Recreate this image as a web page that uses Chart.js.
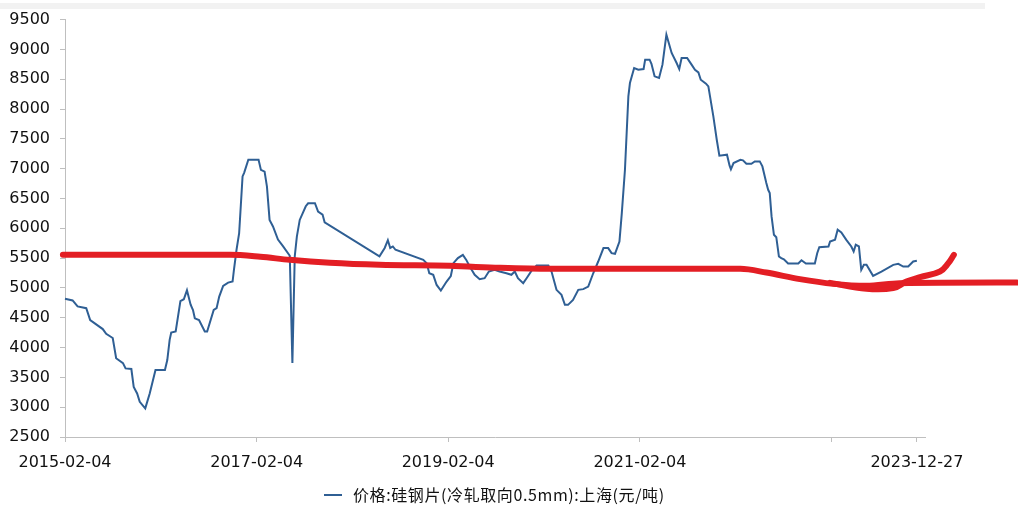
<!DOCTYPE html>
<html>
<head>
<meta charset="utf-8">
<script src="https://cdn.jsdelivr.net/npm/chart.js@4.4.1/dist/chart.umd.min.js"></script>
<style>
  body { margin: 0; background: #fff; }
  #wrap { position: relative; width: 1018px; height: 511px; }
  #band { position: absolute; left: 0; top: 3px; width: 985px; height: 6px; background: #f2f2f2; }
</style>
</head>
<body>
<div id="wrap">
  <div id="band"></div>
  <canvas id="myChart"></canvas>
</div>
<script>
// 价格:硅钢片(冷轧取向0.5mm):上海(元/吨), weekly-ish readings
var priceDates = [
  '2015-02-04','2015-03-05','2015-03-24','2015-04-26','2015-05-11','2015-06-28','2015-07-11','2015-08-05',
  '2015-08-18','2015-09-13','2015-09-23','2015-10-15','2015-10-24','2015-11-06','2015-11-16','2015-12-07',
  '2015-12-24','2016-01-15','2016-02-20','2016-02-29','2016-03-09','2016-03-15','2016-04-01','2016-04-19',
  '2016-05-02','2016-05-14','2016-05-28','2016-06-06','2016-06-13','2016-06-29','2016-07-21','2016-07-30',
  '2016-08-24','2016-09-04','2016-09-14','2016-09-29','2016-10-18','2016-11-04','2016-11-09','2016-11-19',
  '2016-11-29','2016-12-12','2016-12-18','2017-01-03','2017-02-11','2017-02-20','2017-03-06','2017-03-15',
  '2017-03-25','2017-04-07','2017-04-26','2017-05-15','2017-06-10','2017-06-20','2017-06-29','2017-07-07',
  '2017-07-18','2017-08-10','2017-08-19','2017-09-14','2017-09-26','2017-10-13','2017-10-21','2018-05-18',
  '2018-06-07','2018-06-19','2018-06-28','2018-07-08','2018-07-18','2018-11-01','2018-11-14','2018-11-24',
  '2018-12-09','2018-12-22','2019-01-07','2019-01-29','2019-02-14','2019-02-24','2019-03-13','2019-04-01',
  '2019-04-14','2019-04-27','2019-05-16','2019-06-04','2019-06-23','2019-07-09','2019-07-31','2019-08-19',
  '2019-09-14','2019-10-03','2019-10-16','2019-10-28','2019-11-17','2019-11-30','2019-12-19','2020-01-07',
  '2020-02-21','2020-03-04','2020-03-23','2020-04-11','2020-04-24','2020-05-06','2020-05-25','2020-06-14',
  '2020-07-03','2020-07-22','2020-08-10','2020-08-29','2020-09-18','2020-10-06','2020-10-19','2020-11-01',
  '2020-11-18','2020-11-27','2020-12-09','2020-12-22','2020-12-28','2021-01-13','2021-01-29','2021-02-18',
  '2021-02-24','2021-03-13','2021-03-20','2021-04-01','2021-04-18','2021-05-01','2021-05-16','2021-06-05',
  '2021-06-24','2021-07-04','2021-07-13','2021-08-03','2021-08-20','2021-09-02','2021-09-15','2021-09-24',
  '2021-10-14','2021-10-23','2021-11-11','2021-11-24','2021-12-04','2022-01-02','2022-01-12','2022-01-17',
  '2022-01-27','2022-02-22','2022-03-04','2022-03-17','2022-04-05','2022-04-18','2022-05-07','2022-05-17',
  '2022-06-01','2022-06-08','2022-06-14','2022-06-21','2022-06-30','2022-07-09','2022-07-19','2022-07-28',
  '2022-08-07','2022-08-23','2022-10-01','2022-10-13','2022-10-30','2022-12-03','2022-12-12','2022-12-20',
  '2023-01-24','2023-01-30','2023-02-18','2023-02-28','2023-03-14','2023-04-02','2023-04-21','2023-04-30',
  '2023-05-08','2023-05-20','2023-05-29','2023-06-08','2023-06-18','2023-07-13','2023-08-14','2023-09-28',
  '2023-10-17','2023-11-05','2023-11-24','2023-12-13','2023-12-27'
]
var priceValues = [
  4820,4790,4690,4660,4460,4310,4230,4160,
  3820,3740,3650,3640,3340,3230,3090,2980,
  3230,3625,3625,3790,4130,4250,4270,4780,
  4810,4960,4720,4630,4490,4460,4270,4270,
  4630,4660,4855,5035,5090,5107,5300,5640,
  5920,6870,6930,7150,7150,6980,6950,6700,
  6140,6030,5810,5700,5540,3740,5530,5860,
  6140,6370,6420,6420,6280,6230,6100,5530,
  5670,5800,5670,5695,5640,5470,5415,5246,
  5220,5050,4956,5107,5200,5415,5500,5555,
  5470,5360,5220,5147,5163,5275,5303,5275,
  5246,5220,5275,5163,5080,5163,5290,5375,
  5375,5275,4968,4884,4716,4716,4800,4968,
  4980,5023,5246,5443,5668,5668,5583,5572,
  5779,6254,6982,8212,8436,8688,8660,8671,
  8828,8828,8760,8548,8520,8744,9248,8940,
  8772,8671,8856,8856,8744,8660,8615,8492,
  8425,8380,7876,7485,7217,7234,7050,6990,
  7094,7150,7140,7083,7083,7122,7122,7038,
  6758,6646,6590,6199,5891,5851,5527,5499,
  5480,5410,5410,5465,5410,5410,5583,5684,
  5695,5779,5807,5975,5930,5807,5695,5611,
  5723,5695,5303,5387,5387,5202,5275,5387,
  5404,5359,5359,5443,5454
]

// red hand-drawn strokes over the chart
var markDates = ['2015-01-27','2016-10-25','2017-02-18','2017-06-10','2017-11-10','2018-05-18','2019-02-11',
  '2019-08-19','2020-02-28','2022-02-22','2022-06-01','2022-10-07','2023-02-11','2023-06-18','2023-10-23','2025-01-12']
var markValues = [5555,5555,5522,5471,5421,5387,5370,5337,5320,5320,5258,5147,5068,5035,5080,5090]
var curlDates = ['2023-01-30','2023-06-18','2023-09-28','2023-11-17','2024-01-08','2024-03-24','2024-04-25','2024-05-16']
var curlValues = [5085,4985,4997,5107,5180,5275,5415,5555]

var tickDates = ['2015-02-04','2017-02-04','2019-02-04','2021-02-04','2023-02-04','2023-12-27']
var tickLabels = ['2015-02-04','2017-02-04','2019-02-04','2021-02-04','','2023-12-27']
var startDate = '2015-02-04'
var endDate = '2024-01-27'

var seriesName = '价格:硅钢片(冷轧取向0.5mm):上海(元/吨)'
var blue = '#2f5f94'
var red = '#e31e24'

function dayOf(s) {
  return (Date.parse(s) - Date.parse(startDate)) / 864e5
}
function points(dates, values) {
  return dates.map(function (d, i) { return { x: dayOf(d), y: values[i] } })
}

var legendPlugin = {
  id: 'legendLine',
  afterDraw: function (chart) {
    var ctx = chart.ctx
    ctx.save()
    ctx.strokeStyle = blue
    ctx.lineWidth = 2
    ctx.beginPath()
    ctx.moveTo(324, 495)
    ctx.lineTo(342, 495)
    ctx.stroke()
    ctx.fillStyle = '#111'
    ctx.font = '16px "Noto Sans CJK SC"'
    ctx.letterSpacing = '0.6px'
    ctx.textBaseline = 'middle'
    ctx.fillText(seriesName, 353, 495)
    ctx.restore()
  }
}

var ctx = document.getElementById('myChart').getContext('2d')
var chart = new Chart(ctx, {
  type: 'line',
  data: {
    datasets: [{
      label: seriesName,
      data: points(priceDates, priceValues),
      borderColor: blue,
      borderWidth: 2,
      pointRadius: 0,
      tension: 0,
      order: 2
    }, {
      label: 'mark',
      data: points(markDates, markValues),
      borderColor: red,
      borderWidth: 6,
      borderCapStyle: 'round',
      pointRadius: 0,
      cubicInterpolationMode: 'monotone',
      clip: false,
      order: 1
    }, {
      label: 'curl',
      data: points(curlDates, curlValues),
      borderColor: red,
      borderWidth: 6,
      borderCapStyle: 'round',
      pointRadius: 0,
      tension: 0.4,
      clip: false,
      order: 1
    }]
  },
  options: {
    responsive: true,
    maintainAspectRatio: false,
    animation: false,
    layout: { padding: { left: 0, top: 19, right: 93, bottom: 24 } },
    plugins: {
      legend: { display: false },
      tooltip: { enabled: false }
    },
    scales: {
      x: {
        type: 'linear',
        // range set here (not via min/max) so the red strokes past the axis end are still drawn
        afterBuildTicks: function (scale) {
          scale.ticks = tickDates.map(function (d) { return { value: dayOf(d) } })
          scale.min = 0
          scale.max = dayOf(endDate)
        },
        afterFit: function (scale) { scale.height = 50 },
        ticks: {
          autoSkip: false,
          maxRotation: 0,
          padding: 11,
          color: '#111',
          font: { family: 'DejaVu Sans', size: 16 },
          callback: function (v, i) { return tickLabels[i] }
        },
        grid: { drawOnChartArea: false, tickLength: 5, color: '#bfbfbf' },
        border: { color: '#bfbfbf' }
      },
      y: {
        min: 2500,
        max: 9500,
        afterFit: function (scale) { scale.width = 65 },
        ticks: {
          stepSize: 500,
          padding: 10,
          color: '#111',
          font: { family: 'DejaVu Sans', size: 16 },
          callback: function (v) { return String(v) }
        },
        grid: { drawOnChartArea: false, tickLength: 5, color: '#bfbfbf' },
        border: { color: '#bfbfbf' }
      }
    }
  },
  plugins: [legendPlugin]
})
</script>
</body>
</html>
